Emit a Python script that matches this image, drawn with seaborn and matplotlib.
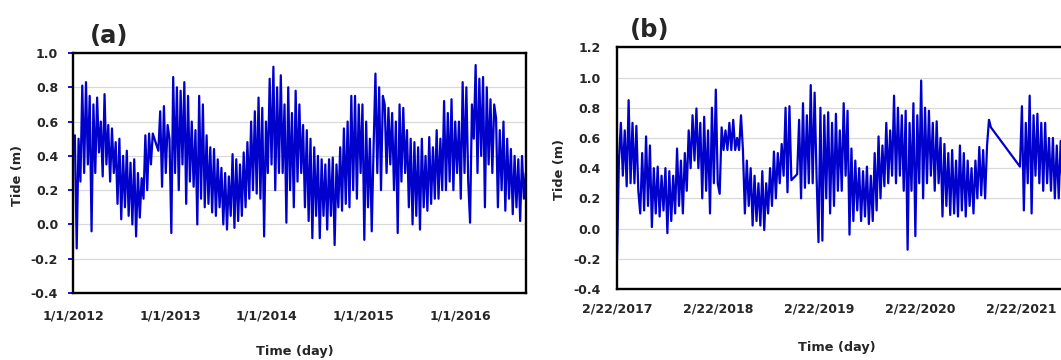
import matplotlib
matplotlib.use("Agg")
import matplotlib.pyplot as plt
import seaborn as sns
import numpy as np
import pandas as pd

# ---------------- data (weekly readings, None = gap in record) ----------------
start_a = "2012-01-01"
tide_a_2012 = [0.45, 0.52, -0.14, 0.50,
               0.25, 0.81, 0.30, 0.83,
               0.35, 0.75, -0.04, 0.70,
               0.30, 0.74, 0.42, 0.60,
               0.28, 0.76, 0.35, 0.58,
               0.25, 0.56, 0.30, 0.48,
               0.12, 0.50, 0.03, 0.40,
               0.10, 0.43, 0.05, 0.36,
               0.00, 0.38, -0.07, 0.30,
               0.04, 0.27, 0.15, 0.52,
               0.20, 0.53, 0.35, 0.53,
               None, None, 0.43, 0.66,
               0.22, 0.69, 0.30, 0.58]
tide_a_2013 = [0.50, -0.05, 0.86, 0.30,
               0.80, 0.20, 0.78, 0.35,
               0.83, 0.12, 0.75, 0.25,
               0.60, 0.22, 0.55, 0.00,
               0.75, 0.15, 0.70, 0.10,
               0.52, 0.12, 0.45, 0.07,
               0.44, 0.05, 0.38, 0.10,
               0.33, 0.00, 0.30, -0.03,
               0.28, 0.05, 0.41, -0.02,
               0.38, 0.02, 0.35, 0.05,
               0.42, 0.10, 0.48, 0.15,
               0.60, 0.20, 0.66, 0.18,
               0.74, 0.15, 0.68, -0.07]
tide_a_2014 = [0.60, 0.30, 0.85, 0.35,
               0.92, 0.20, 0.80, 0.30,
               0.87, 0.30, 0.70, 0.01,
               0.80, 0.20, 0.65, 0.10,
               0.78, 0.25, 0.70, 0.30,
               0.58, 0.10, 0.55, 0.02,
               0.50, -0.08, 0.45, 0.05,
               0.40, -0.08, 0.38, 0.05,
               0.35, -0.03, 0.38, 0.05,
               0.39, -0.12, 0.35, 0.10,
               0.45, 0.08, 0.56, 0.12,
               0.60, 0.10, 0.75, 0.20,
               0.75, 0.15, 0.70, 0.30]
tide_a_2015 = [0.70, -0.09, 0.60, 0.10,
               0.50, -0.04, 0.45, 0.88,
               0.30, 0.80, 0.20, 0.75,
               0.70, 0.30, 0.68, 0.35,
               0.65, 0.20, 0.60, -0.05,
               0.70, 0.25, 0.68, 0.30,
               0.55, 0.10, 0.50, 0.00,
               0.48, 0.05, 0.45, -0.03,
               0.50, 0.10, 0.40, 0.08,
               0.51, 0.12, 0.45, 0.15,
               0.55, 0.15, 0.50, 0.20,
               0.72, 0.20, 0.65, 0.25,
               0.73, 0.20, 0.60, 0.30]
tide_a_2016 = [0.60, 0.15, 0.83, 0.30,
               0.80, 0.25, 0.01, 0.70,
               0.50, 0.93, 0.30, 0.85,
               0.40, 0.86, 0.10, 0.80,
               0.35, 0.73, 0.30, 0.70,
               0.62, 0.10, 0.55, 0.20,
               0.60, 0.08, 0.50, 0.15,
               0.44, 0.06, 0.40, 0.10,
               0.38, 0.02, 0.40, 0.15,
               0.30]

start_b = "2017-02-22"
tide_b_2017 = [-0.20, 0.45, 0.70, 0.35,
               0.65, 0.28, 0.85, 0.30,
               0.70, 0.30, 0.68, 0.25,
               0.10, 0.50, 0.12, 0.61,
               0.15, 0.55, 0.01, 0.40,
               0.10, 0.41, 0.08, 0.35,
               0.12, 0.40, -0.03, 0.38,
               0.05, 0.35, 0.10, 0.53,
               0.15, 0.45, 0.10, 0.50,
               0.25, 0.65, 0.40, 0.75,
               0.45, 0.795, 0.40, 0.70,
               0.20, 0.74, 0.25, 0.65,
               0.10, 0.80, 0.30, 0.92]
tide_b_2018 = [0.30, 0.23, 0.67, 0.52,
               0.65, 0.52, 0.70, 0.52,
               0.72, 0.52, 0.60, 0.52,
               0.75, 0.52, 0.10, 0.45,
               0.15, 0.40, 0.02, 0.35,
               0.05, 0.30, 0.02, 0.38,
               -0.01, 0.30, 0.10, 0.40,
               0.15, 0.51, 0.20, 0.50,
               0.30, 0.56, 0.35, 0.80,
               0.24, 0.81, 0.32, None,
               None, 0.36, 0.72, 0.20,
               0.83, 0.27, 0.75, 0.30,
               0.95, 0.30, 0.90, 0.35]
tide_b_2019 = [-0.09, 0.80, -0.08, 0.75,
               0.20, 0.77, 0.10, 0.70,
               0.15, 0.76, 0.25, 0.65,
               0.25, 0.83, 0.35, 0.78,
               -0.04, 0.53, 0.05, 0.45,
               0.12, 0.40, 0.05, 0.38,
               0.08, 0.41, 0.03, 0.35,
               0.05, 0.50, 0.12, 0.61,
               0.20, 0.55, 0.28, 0.70,
               0.30, 0.65, 0.35, 0.88,
               0.30, 0.80, 0.35, 0.75,
               0.25, 0.78, -0.14, 0.70,
               0.25, 0.83, -0.05, 0.75]
tide_b_2020 = [0.30, 0.98, 0.20, 0.80,
               0.30, 0.78, 0.35, 0.70,
               0.25, 0.71, 0.30, 0.60,
               0.08, 0.56, 0.15, 0.50,
               0.09, 0.52, 0.10, 0.45,
               0.08, 0.55, 0.12, 0.50,
               0.08, 0.45, 0.15, 0.40,
               0.10, 0.45, 0.20, 0.54,
               0.22, 0.52, 0.20, 0.55,
               0.72, 0.67, None, None,
               None, None, None, None,
               None, None, None, None,
               None, None, None, None]
tide_b_2021 = [0.41, 0.81, 0.12, 0.70,
               0.30, 0.88, 0.10, 0.75,
               0.35, 0.76, 0.30, 0.70,
               0.25, 0.70, 0.30, 0.60,
               0.25, 0.60, 0.20, 0.55,
               0.20, 0.58, 0.25, 0.50,
               0.20, 0.55, 0.15, 0.50,
               0.25, 0.60, 0.20, 0.55,
               0.30, 0.60, 0.25, 0.55,
               0.30, 0.60]

xticks_a = ["2012-01-01", "2013-01-01", "2014-01-01", "2015-01-01", "2016-01-01"]
xlabels_a = ["1/1/2012", "1/1/2013", "1/1/2014", "1/1/2015", "1/1/2016"]
xlim_a = ["2012-01-01", "2016-09-05"]
yticks_a = [-0.4, -0.2, 0.0, 0.2, 0.4, 0.6, 0.8, 1.0]
ylabels_a = ["-0.4", "-0.2", "0.0", "0.2", "0.4", "0.6", "0.8", "1.0"]

xticks_b = ["2017-02-22", "2018-02-22", "2019-02-22", "2020-02-22", "2021-02-22"]
xlabels_b = ["2/22/2017", "2/22/2018", "2/22/2019", "2/22/2020", "2/22/2021"]
xlim_b = ["2017-02-22", "2021-10-28"]
yticks_b = [-0.4, -0.2, 0.0, 0.2, 0.4, 0.6, 0.8, 1.0, 1.2]
ylabels_b = ["-0.4", "-0.2", "0.0", "0.2", "0.4", "0.6", "0.8", "1.0", "1.2"]


def make_frame(start, values):
    vals = np.array([np.nan if v is None else v for v in values], dtype=float)
    dates = pd.date_range(start, periods=len(vals), freq="7D")
    df = pd.DataFrame({"date": dates, "tide": vals})
    return df.dropna().reset_index(drop=True)


df_a = make_frame(start_a, tide_a_2012 + tide_a_2013 + tide_a_2014 + tide_a_2015 + tide_a_2016)
df_b = make_frame(start_b, tide_b_2017 + tide_b_2018 + tide_b_2019 + tide_b_2020 + tide_b_2021)

# ---------------- style ----------------
sns.set_style("white")
plt.rcParams["font.family"] = ["DejaVu Sans"]

LINE = "#0000CD"
W, H = 1061, 360
fig = plt.figure(figsize=(W / 100, H / 100), dpi=100)

ax_a = fig.add_axes([73 / W, (H - 293) / H, (526 - 73) / W, (293 - 53) / H])
ax_b = fig.add_axes([617 / W, (H - 289) / H, (1090 - 617) / W, (289 - 47.3) / H])

for ax, df, xt, xl, xlim, yt, yl in [
    (ax_a, df_a, xticks_a, xlabels_a, xlim_a, yticks_a, ylabels_a),
    (ax_b, df_b, xticks_b, xlabels_b, xlim_b, yticks_b, ylabels_b),
]:
    sns.lineplot(data=df, x="date", y="tide", ax=ax, color=LINE,
                 linewidth=1.6, estimator=None, sort=False)
    ax.set_xlim(pd.Timestamp(xlim[0]), pd.Timestamp(xlim[1]))
    ax.set_ylim(yt[0], yt[-1])
    ax.set_xticks([pd.Timestamp(t) for t in xt])
    ax.set_xticklabels(xl, fontweight="bold", fontsize=9)
    ax.set_yticks(yt)
    ax.set_yticklabels(yl, fontweight="bold", fontsize=9)
    ax.set_xlabel("")
    ax.set_ylabel("")
    ax.yaxis.grid(True, color="#d9d9d9", linewidth=0.9)
    ax.xaxis.grid(False)
    ax.set_axisbelow(True)
    for s in ax.spines.values():
        s.set_visible(True)
        s.set_color("black")
        s.set_linewidth(1.7)

ax_a.tick_params(axis="y", length=3.5, width=1.3, color=LINE, pad=7.2, left=True)
ax_a.tick_params(axis="x", length=0, pad=12)
ax_b.tick_params(axis="y", length=0, pad=12)
ax_b.tick_params(axis="x", length=0, pad=10)

# axis titles and panel letters
fig.text(295 / W, 1 - 352 / H, "Time (day)", ha="center", va="center",
         fontsize=9.3, fontweight="bold")
fig.text(837 / W, 1 - 348 / H, "Time (day)", ha="center", va="center",
         fontsize=9.3, fontweight="bold")
fig.text(17.7 / W, 1 - 175 / H, "Tide (m)", ha="center", va="center",
         rotation=90, fontsize=9.3, fontweight="bold")
fig.text(560 / W, 1 - 170 / H, "Tide (m)", ha="center", va="center",
         rotation=90, fontsize=9.3, fontweight="bold")
fig.text(109 / W, 1 - 35.5 / H, "(a)", ha="center", va="center",
         fontsize=17.5, fontweight="bold")
fig.text(650 / W, 1 - 30 / H, "(b)", ha="center", va="center",
         fontsize=17.5, fontweight="bold")

fig.savefig("out.png", dpi=100)
